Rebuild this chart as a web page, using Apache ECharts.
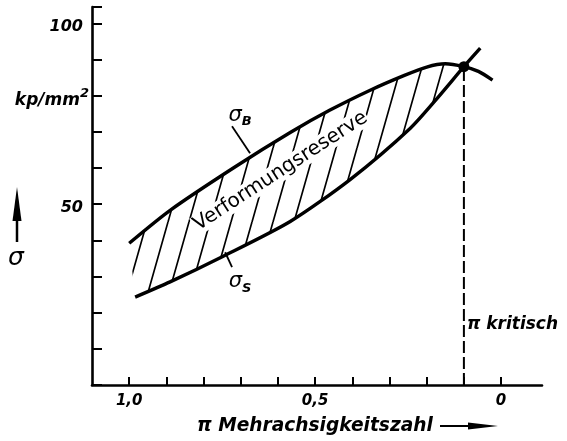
<!DOCTYPE html>
<html>
<head>
<meta charset="utf-8">
<script src="https://cdn.jsdelivr.net/npm/echarts@6/dist/echarts.min.js"></script>
<style>
html,body{margin:0;padding:0;background:#fff;}
#c{width:567px;height:441px;}
</style>
</head>
<body>
<div id="c"></div>
<script>
// ---- data (x = Mehrachsigkeitszahl π, y = σ in kp/mm²) ----
const sigmaB = [
  [1.0, 39.2], [0.89, 48.3], [0.72, 60.0], [0.567, 69.8], [0.46, 76.0],
  [0.352, 81.5], [0.26, 85.6], [0.2, 87.9], [0.15, 88.8], [0.1, 88.0],
  [0.061, 86.7], [0.023, 84.3]
];
const sigmaS = [
  [0.984, 24.3], [0.89, 28.5], [0.747, 35.6], [0.567, 45.2], [0.406, 56.8],
  [0.244, 71.0], [0.169, 79.6], [0.1, 88.0], [0.056, 93.1]
];
const piKritisch = 0.1;
const critPoint = [0.1, 88.0];
const critLine = [[0.1, 0], [0.1, 88.0]];
const leaderB = [[0.7235, 71.5], [0.675, 64.1]];
const leaderS = [[0.742, 36.7], [0.7235, 32.6]];
const labelB = [0.702, 74.6];
const labelS = [0.702, 28.5];
const labelReserve = [0.593, 59.1];
const labelKrit = [0.1, 16.6];
const xTickValues = [0, 0.1, 0.2, 0.3, 0.4, 0.5, 0.6, 0.7, 0.8, 0.9, 1.0];
const xLabelValues = [0, 0.5, 1.0];
const yLabelValues = [50, 100];

const FONT = 'DejaVu Sans';
const INK = '#000';

function makeHatch() {
  const W = 21, H = 74;
  const c = document.createElement('canvas');
  c.width = W; c.height = H;
  const ctx = c.getContext('2d');
  ctx.strokeStyle = INK;
  ctx.lineWidth = 1.7;
  ctx.beginPath();
  for (const k of [-1, 0, 1]) {
    ctx.moveTo(k * W, H);
    ctx.lineTo(k * W + W, 0);
  }
  ctx.stroke();
  return c;
}
const hatch = makeHatch();

const chart = echarts.init(document.getElementById('c'), null, {renderer: 'canvas'});

const labelFont = {fontFamily: FONT, fontStyle: 'italic', fontWeight: 'bold', color: INK, opacity: 1, textBorderWidth: 0};

const option = {
  animation: false,
  backgroundColor: '#fff',
  grid: {left: 92, right: 25, top: 7, bottom: 56},
  xAxis: {
    type: 'value', inverse: true, min: -0.11, max: 1.1,
    axisLine: {onZero: false, lineStyle: {color: INK, width: 2.6}},
    splitLine: {show: false},
    axisTick: {inside: true, length: 8, lineStyle: {color: INK, width: 2}, customValues: xTickValues},
    axisLabel: Object.assign({
      fontSize: 15, margin: 9,
      customValues: xLabelValues,
      formatter: v => v === 0 ? '0' : v.toFixed(1).replace('.', ',')
    }, labelFont)
  },
  yAxis: {
    type: 'value', min: 0, max: 104.5, interval: 10, position: 'left',
    axisLine: {show: true, onZero: false, lineStyle: {color: INK, width: 2.6}},
    splitLine: {show: false},
    axisTick: {inside: true, length: 10, lineStyle: {color: INK, width: 2}},
    axisLabel: Object.assign({
      fontSize: 16, margin: 9,
      formatter: v => yLabelValues.indexOf(v) >= 0 ? '{n|' + v + '}' : '',
      rich: {n: {fontFamily: FONT, fontStyle: 'italic', fontWeight: 'bold', fontSize: 16, color: INK, padding: [8, 0, 0, 0]}}
    }, labelFont)
  },
  graphic: [
    // σ arrow
    {type: 'line', shape: {x1: 17, y1: 216, x2: 17, y2: 242}, style: {stroke: INK, lineWidth: 2.5}},
    {type: 'polygon', shape: {points: [[17, 187], [12.5, 221], [21.5, 221]]}, style: {fill: INK}},
    {type: 'text', x: 16, y: 258, style: {text: 'σ', fontFamily: FONT, fontStyle: 'italic', fontSize: 25, fill: INK, align: 'center', verticalAlign: 'middle'}},
    // unit
    {type: 'text', x: 89, y: 98, style: {
      text: '{a|kp/mm}{b|2}', align: 'right', verticalAlign: 'middle',
      rich: {
        a: {fontFamily: FONT, fontStyle: 'italic', fontWeight: 'bold', fontSize: 17, fill: INK, verticalAlign: 'bottom', lineHeight: 22},
        b: {fontFamily: FONT, fontStyle: 'italic', fontWeight: 'bold', fontSize: 13, fill: INK, verticalAlign: 'top', lineHeight: 22}
      }
    }},
    // x title
    {type: 'text', x: 197, y: 426, style: {text: 'π Mehrachsigkeitszahl', fontFamily: FONT, fontStyle: 'italic', fontWeight: 'bold', fontSize: 18.6, fill: INK, align: 'left', verticalAlign: 'middle'}},
    {type: 'line', shape: {x1: 440, y1: 426, x2: 474, y2: 426}, style: {stroke: INK, lineWidth: 2}},
    {type: 'polygon', shape: {points: [[468, 422.5], [498, 426], [468, 429.5]]}, style: {fill: INK}}
  ],
  series: [
    {
      type: 'custom', silent: true, z: 1,
      data: [critPoint],
      renderItem: function (params, api) {
        const up = sigmaB.filter(p => p[0] >= piKritisch).map(p => api.coord(p));
        const lo = sigmaS.filter(p => p[0] >= piKritisch).map(p => api.coord(p)).reverse();
        return {type: 'polygon', shape: {points: up.concat(lo), smooth: 0}, style: {fill: {image: hatch, repeat: 'repeat'}, stroke: null}};
      }
    },
    {type: 'line', data: sigmaB, smooth: 0.25, symbol: 'none', z: 3, lineStyle: {color: INK, width: 3.4}},
    {type: 'line', data: sigmaS, smooth: 0.25, symbol: 'none', z: 3, lineStyle: {color: INK, width: 3.4}},
    {type: 'line', data: critLine, symbol: 'none', z: 2, lineStyle: {color: INK, width: 2, type: [12, 4]}},
    {type: 'line', data: leaderB, symbol: 'none', z: 2, lineStyle: {color: INK, width: 1.8}},
    {type: 'line', data: leaderS, symbol: 'none', z: 2, lineStyle: {color: INK, width: 1.8}},
    {type: 'scatter', data: [critPoint], symbolSize: 11, z: 4, itemStyle: {color: INK, opacity: 1}},
    {
      type: 'scatter', symbolSize: 0, z: 5, itemStyle: {opacity: 1},
      data: [
        {value: labelB, label: {formatter: '{s|σ}{t|B}'}},
        {value: labelS, label: {formatter: '{s|σ}{t|S}'}}
      ],
      label: {
        show: true, position: 'inside', textBorderWidth: 0,
        rich: {
          s: {fontFamily: FONT, fontStyle: 'italic', fontSize: 21, color: INK, lineHeight: 26, verticalAlign: 'middle'},
          t: {fontFamily: FONT, fontStyle: 'italic', fontWeight: 'bold', fontSize: 13, color: INK, lineHeight: 26, verticalAlign: 'bottom'}
        }
      }
    },
    {
      type: 'scatter', symbolSize: 0, z: 5, itemStyle: {opacity: 1},
      data: [labelReserve],
      label: {show: true, position: 'inside', rotate: 33, formatter: 'Verformungsreserve',
        fontFamily: FONT, fontSize: 20, color: INK, textBorderWidth: 0, backgroundColor: '#fff', padding: [0, 1]}
    },
    {
      type: 'scatter', symbolSize: 0, z: 5, itemStyle: {opacity: 1},
      data: [labelKrit],
      label: Object.assign({show: true, position: 'right', distance: 3, formatter: 'π kritisch', fontSize: 17}, labelFont)
    }
  ]
};
chart.setOption(option);
</script>
</body>
</html>
